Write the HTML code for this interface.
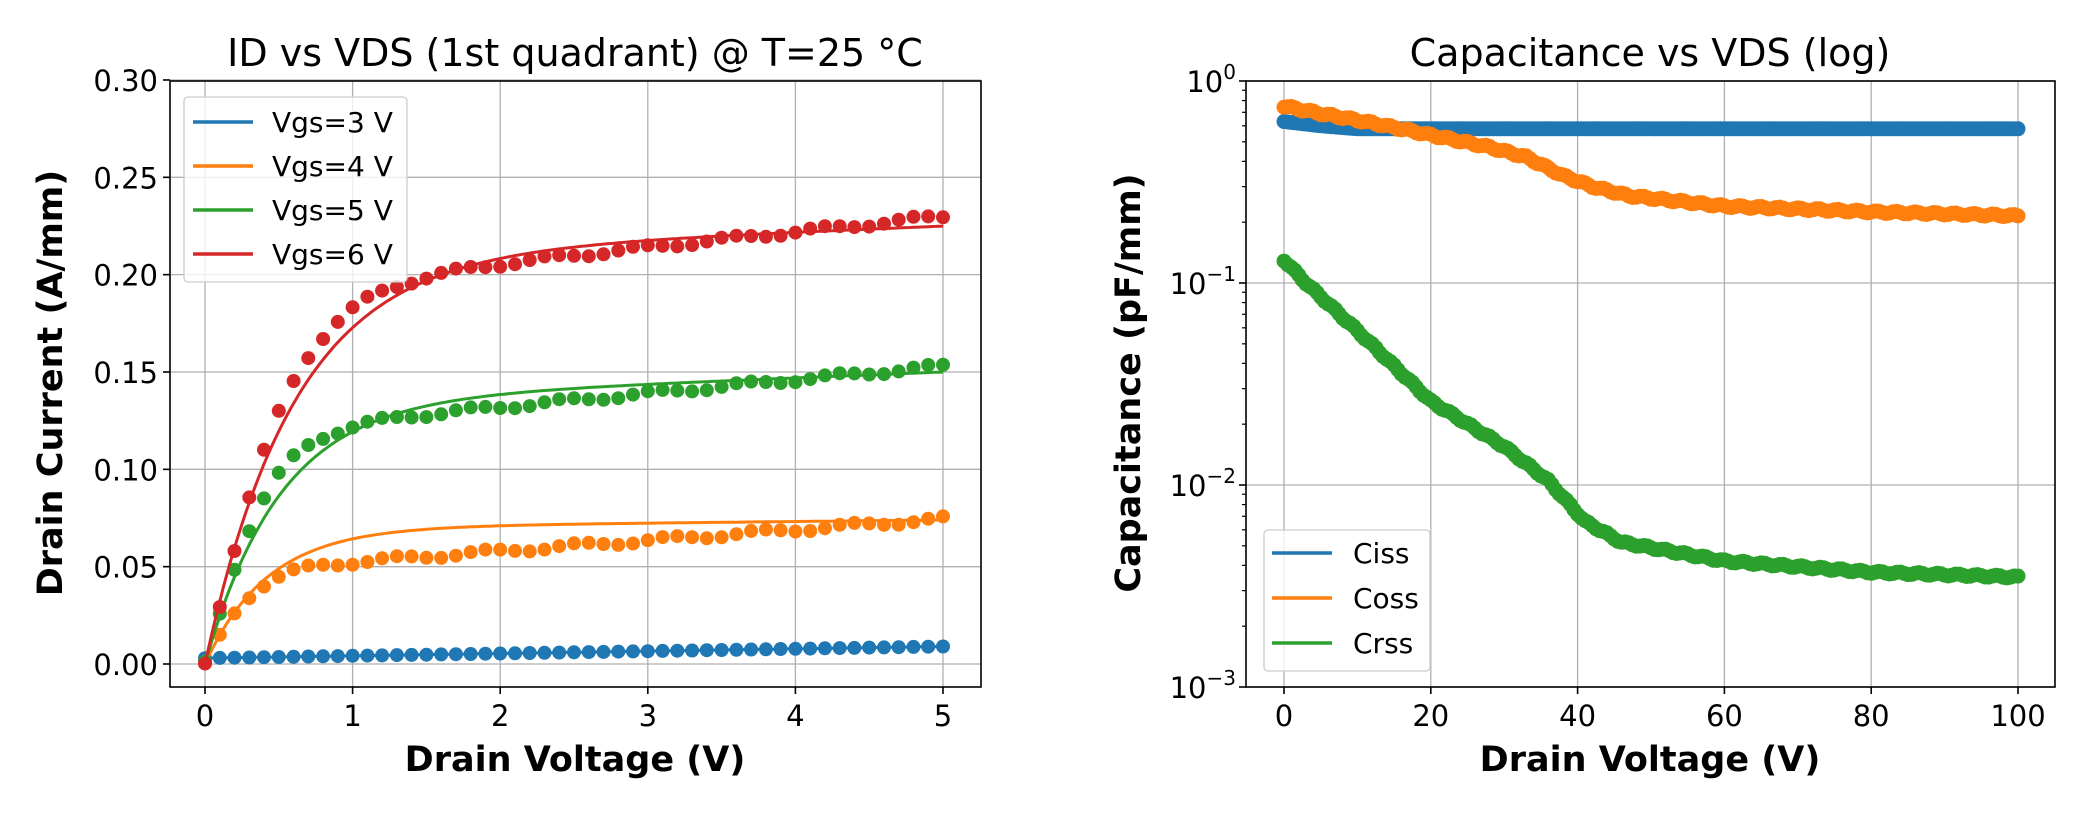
<!DOCTYPE html><html><head><meta charset="utf-8"><style>body{margin:0;background:#fff}svg{display:block}text{font-family:"DejaVu Sans","Liberation Sans",sans-serif}</style></head><body>
<svg id="s" width="2090" height="813" xmlns="http://www.w3.org/2000/svg"></svg>
<script>
const s=document.getElementById('s');let h='';
const C=['#1f77b4','#ff7f0e','#2ca02c','#d62728'];
const LX=v=>205+v*147.6, LY=v=>664-v*1946.7;
const L={l:170,r:981,t:81,b:687};
function grid(xs,ys,A){xs.forEach(x=>h+=`<line x1="${x}" y1="${A.t}" x2="${x}" y2="${A.b}" stroke="#b0b0b0" stroke-width="1.3"/>`);ys.forEach(y=>h+=`<line x1="${A.l}" y1="${y}" x2="${A.r}" y2="${y}" stroke="#b0b0b0" stroke-width="1.3"/>`);}
grid([0,1,2,3,4,5].map(LX),[0,.05,.1,.15,.2,.25,.3].map(LY),L);
const tn=Math.tanh;
const dat=[v=>0.003+0.0012*v, v=>(0.047+0.0055*v)*tn(3*v), v=>(0.118+0.007*v)*tn(2.2*v), v=>(0.19+0.008*v)*tn(1.6*v)];
const fit=[v=>(0.003+0.0012*v)*(v>0?1:0), v=>(0.07+0.0008*v)*(1-Math.exp(-v/0.42)), v=>(0.135+0.003*v)*(1-Math.exp(-v/0.5)), v=>(0.21+0.003*v)*(1-Math.exp(-v/0.6))];
h+=`<clipPath id="cl"><rect x="${L.l}" y="${L.t}" width="${L.r-L.l}" height="${L.b-L.t}"/></clipPath><clipPath id="cr"><rect x="1246" y="81" width="809" height="606"/></clipPath>`;
h+='<g clip-path="url(#cl)">';
for(let k=0;k<4;k++){let p='';for(let i=0;i<=200;i++){const v=i*0.025;p+=(i?'L':'M')+LX(v).toFixed(1)+','+LY(fit[k](v)).toFixed(1);}h+=`<path d="${p}" fill="none" stroke="${C[k]}" stroke-width="3"/>`;
for(let i=0;i<=50;i++){const v=i*0.1;const n=k==0?0:Math.sin(i*7.3+k)*0.0013;h+=`<circle cx="${LX(v).toFixed(1)}" cy="${LY(dat[k](v)+n).toFixed(1)}" r="7" fill="${C[k]}"/>`;}}
h+='</g>';
h+=`<rect x="${L.l}" y="${L.t}" width="${L.r-L.l}" height="${L.b-L.t}" fill="none" stroke="#000" stroke-width="1.6"/>`;
[0,1,2,3,4,5].forEach(v=>{const x=LX(v);h+=`<line x1="${x}" y1="${L.b}" x2="${x}" y2="${L.b+7}" stroke="#000" stroke-width="1.6"/><text x="${x}" y="${L.b+39}" font-size="29" text-anchor="middle">${v}</text>`});
[0,.05,.1,.15,.2,.25,.3].forEach(v=>{const y=LY(v);h+=`<line x1="${L.l-7}" y1="${y}" x2="${L.l}" y2="${y}" stroke="#000" stroke-width="1.6"/><text x="${L.l-12}" y="${y+11}" font-size="29" text-anchor="end">${v.toFixed(2)}</text>`});
h+=`<text x="575" y="66" font-size="38" text-anchor="middle">ID vs VDS (1st quadrant) @ T=25 °C</text>`;
h+=`<text x="575" y="771" font-size="35" font-weight="bold" text-anchor="middle">Drain Voltage (V)</text>`;
h+=`<text transform="translate(62,383) rotate(-90)" font-size="35" font-weight="bold" text-anchor="middle">Drain Current (A/mm)</text>`;
h+=`<rect x="184" y="97" width="223" height="185" rx="4" fill="#fff" fill-opacity="0.8" stroke="#ccc" stroke-width="1.3"/>`;
['Vgs=3 V','Vgs=4 V','Vgs=5 V','Vgs=6 V'].forEach((t,i)=>{const y=122+i*44;h+=`<line x1="193" y1="${y}" x2="253" y2="${y}" stroke="${C[i]}" stroke-width="3.5"/><text x="272" y="${y+10}" font-size="28">${t}</text>`});
const RX=v=>1284+v*7.34, RY=c=>81-Math.log10(c)*202;
const R={l:1246,r:2055,t:81,b:687};
grid([0,20,40,60,80,100].map(RX),[1,.1,.01,.001].map(RY),R);
function interp(pts,v){for(let i=1;i<pts.length;i++){if(v<=pts[i][0]){const a=pts[i-1],b=pts[i],t=(v-a[0])/(b[0]-a[0]);return Math.pow(10,Math.log10(a[1])+t*(Math.log10(b[1])-Math.log10(a[1])));}}return pts[pts.length-1][1];}
const cs=[[[0,.63],[5,.6],[10,.58],[100,.58]],[[0,.75],[5,.69],[12,.62],[20,.54],[28,.47],[33,.42],[38,.34],[42,.3],[47,.27],[60,.24],[80,.225],[100,.215]],[[0,.13],[3,.1],[10,.058],[20,.026],[30,.0155],[36,.0105],[41,.0066],[46,.0052],[60,.0042],[80,.0037],[100,.0035]]];
h+='<g clip-path="url(#cr)">';
for(let k=0;k<3;k++){let p='';for(let i=0;i<=200;i++){const v=i*0.5;p+=(i?'L':'M')+RX(v).toFixed(1)+','+RY(interp(cs[k],v)).toFixed(1);}h+=`<path d="${p}" fill="none" stroke="${C[k]}" stroke-width="10" stroke-linecap="round" stroke-linejoin="round"/>`;
for(let i=0;i<=200;i++){const v=i*0.5;const n=k==0?0:Math.sin(i*5.1+k)*0.006;h+=`<circle cx="${RX(v).toFixed(1)}" cy="${(RY(interp(cs[k],v))+n*200).toFixed(1)}" r="7.5" fill="${C[k]}"/>`;}}
h+='</g>';
h+=`<rect x="${R.l}" y="${R.t}" width="${R.r-R.l}" height="${R.b-R.t}" fill="none" stroke="#000" stroke-width="1.6"/>`;
[0,20,40,60,80,100].forEach(v=>{const x=RX(v);h+=`<line x1="${x}" y1="${R.b}" x2="${x}" y2="${R.b+7}" stroke="#000" stroke-width="1.6"/><text x="${x}" y="${R.b+39}" font-size="29" text-anchor="middle">${v}</text>`});
[0,-1,-2,-3].forEach(e=>{const y=RY(Math.pow(10,e));h+=`<line x1="${R.l-7}" y1="${y}" x2="${R.l}" y2="${y}" stroke="#000" stroke-width="1.6"/><text x="${R.l-10}" y="${y+11}" font-size="29" text-anchor="end">10<tspan dy="-13" font-size="20">${e==0?'0':'−'+(-e)}</tspan></text>`;
if(e<0){for(let m=2;m<=9;m++){const yy=RY(m*Math.pow(10,e));h+=`<line x1="${R.l-4}" y1="${yy}" x2="${R.l}" y2="${yy}" stroke="#000" stroke-width="1.2"/>`;}}});
h+=`<text x="1650" y="66" font-size="38" text-anchor="middle">Capacitance vs VDS (log)</text>`;
h+=`<text x="1650" y="771" font-size="35" font-weight="bold" text-anchor="middle">Drain Voltage (V)</text>`;
h+=`<text transform="translate(1140,383) rotate(-90)" font-size="35" font-weight="bold" text-anchor="middle">Capacitance (pF/mm)</text>`;
h+=`<rect x="1264" y="530" width="166" height="141" rx="4" fill="#fff" fill-opacity="0.8" stroke="#ccc" stroke-width="1.3"/>`;
['Ciss','Coss','Crss'].forEach((t,i)=>{const y=553+i*45;h+=`<line x1="1272" y1="${y}" x2="1332" y2="${y}" stroke="${C[i]}" stroke-width="3.5"/><text x="1353" y="${y+10}" font-size="28">${t}</text>`});
s.innerHTML=h;
</script></body></html>
